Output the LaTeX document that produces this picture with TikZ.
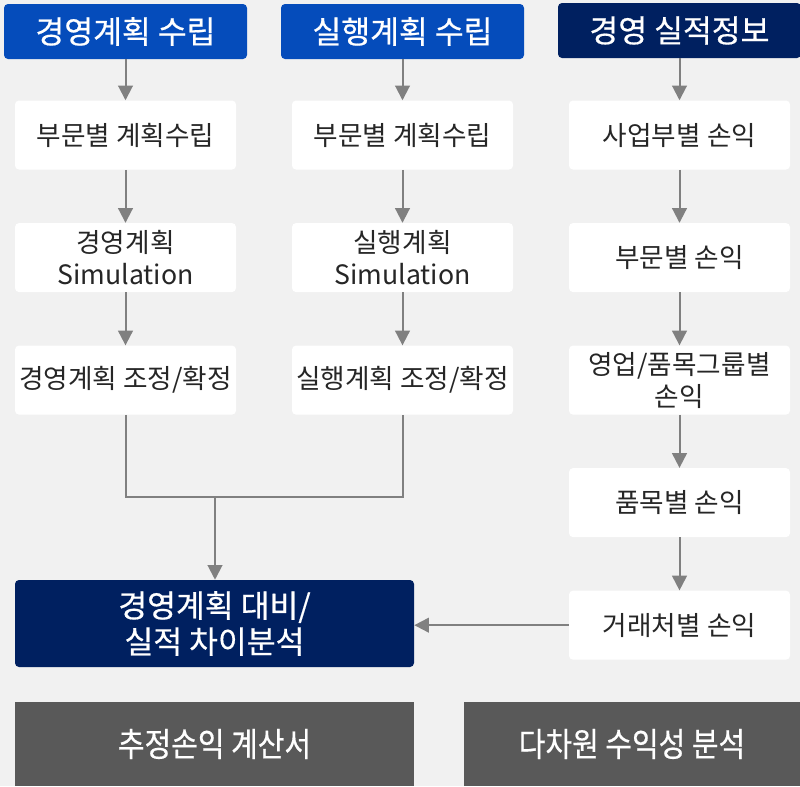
\documentclass[tikz,border=0pt]{standalone}
\usepackage{fontspec}
\setmainfont{Noto Sans CJK KR}
\newfontfamily\headfont[FakeBold=0.6]{Noto Sans CJK KR}
\newfontfamily\condfont[FakeStretch=0.87, FakeBold=0.5]{Noto Sans CJK KR}
\usetikzlibrary{arrows.meta,positioning}

\definecolor{bgGray}{HTML}{F1F1F1}
\definecolor{planBlue}{HTML}{054CBB}
\definecolor{navy}{HTML}{002060}
\definecolor{lineGray}{HTML}{808080}
\definecolor{darkGray}{HTML}{595959}
\definecolor{textGray}{HTML}{262626}

\begin{document}
\begin{tikzpicture}[
  x=0.75pt, y=-0.75pt,
  node distance=39.75pt,
  head/.style={
    fill=planBlue,
    text=white,
    rounded corners=3pt,
    inner sep=0pt,
    minimum width=182.25pt,
    minimum height=41.25pt,
    font=\headfont\fontsize{23.5}{27}\selectfont
  },
  actual/.style={head, fill=navy},
  stepbox/.style={
    fill=white,
    text=textGray,
    rounded corners=3pt,
    inner sep=0pt,
    align=center,
    minimum width=165.75pt,
    minimum height=51.75pt,
    font=\fontsize{20}{24}\selectfont
  },
  gapbox/.style={stepbox, fill=navy, text=white, minimum width=299.25pt, minimum height=65.25pt, font=\headfont\fontsize{23.5}{27}\selectfont},
  report/.style={fill=darkGray, text=white, inner sep=0pt, font=\condfont\fontsize{25}{30}\selectfont},
  arrow/.style={-{Triangle[length=11pt, width=11pt]}, line width=1.5pt, draw=lineGray},
  line/.style={line width=1.5pt, draw=lineGray}
]

\useasboundingbox (0,0) rectangle (800,786);
\fill[bgGray] (0,0) rectangle (800,786);

% headers
\node[head] (planh) at (125.5,31.5) {경영계획 수립};
\node[head] (exech) at (402.5,31.5) {실행계획 수립};
\node[actual] (acth) at (679.5,30.5) {경영 실적정보};

% plan column
\node[stepbox, below=30.75pt of planh] (plan1) {부문별 계획수립};
\node[stepbox, below=of plan1] (plan2) {경영계획\\Simulation};
\node[stepbox, below=of plan2] (plan3) {경영계획 조정/확정};

% execution column
\node[stepbox, below=30.75pt of exech] (exec1) {부문별 계획수립};
\node[stepbox, below=of exec1] (exec2) {실행계획\\Simulation};
\node[stepbox, below=of exec2] (exec3) {실행계획 조정/확정};

% actuals column
\node[stepbox, below=31.5pt of acth] (act1) {사업부별 손익};
\node[stepbox, below=of act1] (act2) {부문별 손익};
\node[stepbox, below=of act2] (act3) {영업/품목그룹별\\손익};
\node[stepbox, below=of act3] (act4) {품목별 손익};
\node[stepbox, below=of act4] (act5) {거래처별 손익};

\node[gapbox] (gap) at (214.5,623.5) {경영계획 대비/\\실적 차이분석};

\node[report, minimum width=299.25pt, minimum height=63pt] (pnl) at (214.5,744) {추정손익 계산서};
\node[report, minimum width=252pt, minimum height=63pt] (multi) at (632,744) {다차원 수익성 분석};

\draw[arrow] (planh) -- (plan1);
\draw[arrow] (plan1) -- (plan2);
\draw[arrow] (plan2) -- (plan3);

\draw[arrow] (exech) -- (exec1);
\draw[arrow] (exec1) -- (exec2);
\draw[arrow] (exec2) -- (exec3);

\draw[arrow] (acth) -- (act1);
\draw[arrow] (act1) -- (act2);
\draw[arrow] (act2) -- (act3);
\draw[arrow] (act3) -- (act4);
\draw[arrow] (act4) -- (act5);

\coordinate (merge) at (215,497);
\draw[line] (plan3.south) |- (merge) -| (exec3.south);
\draw[arrow] (merge) -- (gap.north -| merge);
\draw[arrow] (act5.west) -- (act5.west -| gap.east);

\end{tikzpicture}
\end{document}
